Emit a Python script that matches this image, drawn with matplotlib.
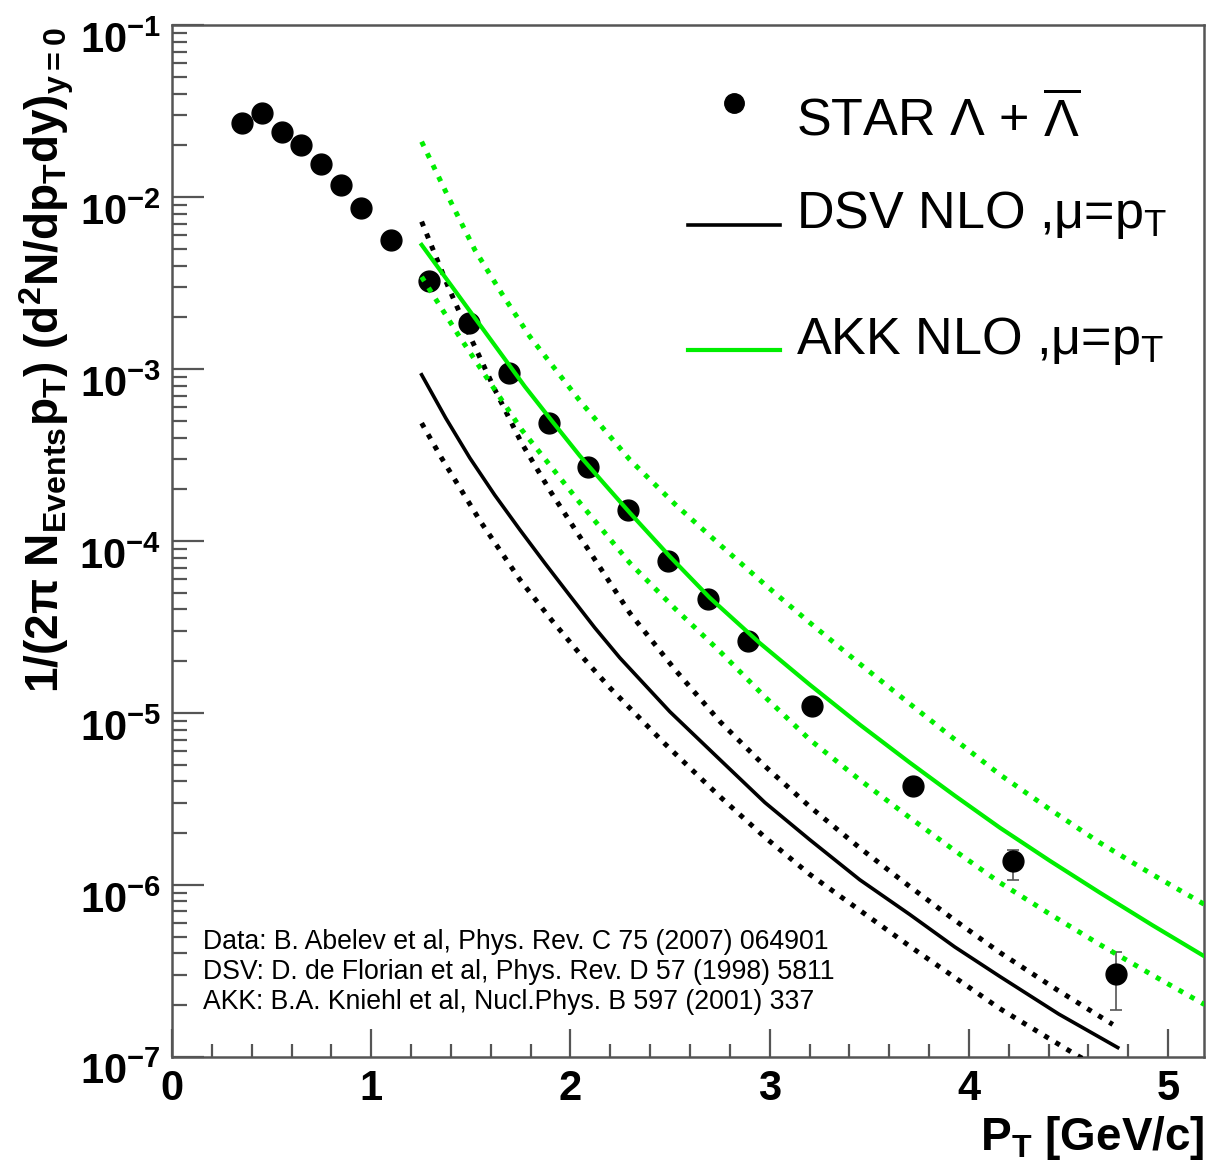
import numpy as np
import matplotlib
matplotlib.use('Agg')
import matplotlib.pyplot as plt
import matplotlib.transforms as mtrans
from matplotlib.ticker import FixedLocator, MultipleLocator, LogLocator, NullFormatter
from matplotlib.lines import Line2D
from matplotlib.legend_handler import HandlerLine2D

plt.rcParams['font.family'] = ['Liberation Sans', 'DejaVu Sans']
plt.rcParams['mathtext.fontset'] = 'custom'
plt.rcParams['mathtext.rm'] = 'Liberation Sans'
plt.rcParams['mathtext.it'] = 'Liberation Sans:italic'
plt.rcParams['mathtext.bf'] = 'Liberation Sans:bold'
plt.rcParams['mathtext.sf'] = 'Liberation Sans'

# ---------------- data ----------------
star_pt = [0.35, 0.45, 0.55, 0.65, 0.75, 0.85, 0.95, 1.10, 1.29, 1.49, 1.69,
           1.89, 2.09, 2.29, 2.49, 2.69, 2.89, 3.21, 3.72, 4.22, 4.74]
star_y = [2.69e-2, 3.08e-2, 2.41e-2, 2.01e-2, 1.56e-2, 1.18e-2, 8.63e-3, 5.65e-3,
          3.27e-3, 1.85e-3, 9.48e-4, 4.85e-4, 2.69e-4, 1.52e-4, 7.61e-5, 4.60e-5,
          2.61e-5, 1.09e-5, 3.74e-6, 1.37e-6, 3.01e-7]
star_err_lo = [0, 0, 0, 0, 0, 0, 0, 0, 0, 0, 0, 0, 0, 0, 0, 0, 0, 0, 0, 0.30e-6, 1.15e-7]
star_err_hi = [0, 0, 0, 0, 0, 0, 0, 0, 0, 0, 0, 0, 0, 0, 0, 0, 0, 0, 0, 0.23e-6, 1.03e-7]

dsv_pt = [1.253, 1.374, 1.495, 1.620, 1.746, 1.872, 1.997, 2.122, 2.248, 2.499, 2.750,
          2.976, 3.201, 3.452, 3.703, 3.929, 4.155, 4.451, 4.747]
dsv_y = [9.27e-4, 5.19e-4, 3.04e-4, 1.85e-4, 1.163e-4, 7.42e-5, 4.81e-5, 3.13e-5,
         2.09e-5, 1.016e-5, 5.35e-6, 3.01e-6, 1.83e-6, 1.07e-6, 6.72e-7, 4.35e-7,
         2.93e-7, 1.77e-7, 1.13e-7]

dsv_hi_pt = [1.253, 1.386, 1.504, 1.621, 1.755, 1.901, 2.047, 2.298, 2.524, 2.750,
             2.976, 3.201, 3.452, 3.703, 3.929, 4.155, 4.440, 4.722]
dsv_hi_y = [7.21e-3, 3.02e-3, 1.48e-3, 7.58e-4, 3.71e-4, 1.93e-4, 1.06e-4, 3.81e-5,
            1.79e-5, 8.91e-6, 4.90e-6, 2.85e-6, 1.64e-6, 9.77e-7, 6.22e-7, 4.04e-7,
            2.46e-7, 1.54e-7]

dsv_lo_pt = [1.253, 1.353, 1.550, 1.746, 1.905, 2.064, 2.198, 2.474, 2.750, 2.976,
             3.201, 3.718, 4.155, 4.541, 4.75]
dsv_lo_y = [4.85e-4, 3.04e-4, 1.29e-4, 5.96e-5, 3.47e-5, 2.09e-5, 1.40e-5, 6.61e-6,
            3.26e-6, 1.89e-6, 1.15e-6, 4.27e-7, 1.905e-7, 1.02e-7, 7.5e-8]

akk_pt = [1.253, 1.504, 1.771, 1.909, 2.047, 2.173, 2.298, 2.499, 2.699, 2.950, 3.201,
          3.452, 3.703, 3.929, 4.155, 4.406, 4.656, 4.920, 5.183]
akk_y = [5.28e-3, 2.105e-3, 7.92e-4, 4.96e-4, 3.13e-4, 2.13e-4, 1.46e-4, 8.12e-5,
         4.68e-5, 2.55e-5, 1.46e-5, 8.55e-6, 5.14e-6, 3.30e-6, 2.15e-6, 1.38e-6,
         9.02e-7, 5.83e-7, 3.83e-7]

akk_hi_pt = [1.253, 1.386, 1.520, 1.654, 1.796, 2.047, 2.298, 2.524, 2.750, 2.976,
             3.201, 3.452, 3.703, 3.929, 4.155, 4.406, 4.656, 4.920, 5.183]
akk_hi_y = [2.104e-2, 1.008e-2, 4.94e-3, 2.766e-3, 1.547e-3, 6.54e-4, 2.97e-4, 1.64e-4,
            9.52e-5, 5.58e-5, 3.35e-5, 1.93e-5, 1.13e-5, 7.01e-6, 4.38e-6, 2.75e-6,
            1.76e-6, 1.15e-6, 7.68e-7]

akk_lo_pt = [1.253, 1.437, 1.570, 1.755, 2.047, 2.298, 2.524, 2.750, 2.976, 3.201,
             3.452, 3.703, 3.929, 4.155, 4.406, 4.656, 4.920, 5.183]
akk_lo_y = [3.44e-3, 1.583e-3, 9.27e-4, 4.44e-4, 1.67e-4, 7.45e-5, 4.05e-5, 2.28e-5,
            1.24e-5, 6.99e-6, 4.08e-6, 2.46e-6, 1.58e-6, 1.03e-6, 6.76e-7, 4.50e-7,
            2.99e-7, 2.01e-7]

y_tick_vals = [1e-7, 1e-6, 1e-5, 1e-4, 1e-3, 1e-2, 1e-1]
y_tick_labels = [r'$\mathbf{10^{-7}}$', r'$\mathbf{10^{-6}}$', r'$\mathbf{10^{-5}}$',
                 r'$\mathbf{10^{-4}}$', r'$\mathbf{10^{-3}}$', r'$\mathbf{10^{-2}}$',
                 r'$\mathbf{10^{-1}}$']
x_tick_vals = [0, 1, 2, 3, 4, 5]
x_tick_labels = ['0', '1', '2', '3', '4', '5']

legend_labels = [r'STAR $\mathrm{\Lambda}$ + $\overline{\mathrm{\Lambda}}$',
                 r'DSV NLO ,μ=p$_\mathrm{T}$',
                 r'AKK NLO ,μ=p$_\mathrm{T}$']
refs = ['Data: B. Abelev et al, Phys. Rev. C 75 (2007) 064901',
        'DSV: D. de Florian et al, Phys. Rev. D 57 (1998) 5811',
        'AKK: B.A. Kniehl et al, Nucl.Phys. B 597 (2001) 337']


class ShiftedHandler(HandlerLine2D):
    """Legend key drawn slightly above/below the text centre (points)."""
    def __init__(self, dy, **kw):
        super().__init__(**kw)
        self.dy = dy

    def create_artists(self, legend, orig_handle, xdescent, ydescent, width, height,
                       fontsize, trans):
        arts = super().create_artists(legend, orig_handle, xdescent, ydescent, width,
                                      height, fontsize, trans)
        for a in arts:
            a.set_ydata(np.asarray(a.get_ydata(), dtype=float) + self.dy)
        return arts


# ---------------- figure ----------------
W, H = 1212, 1167
fig = plt.figure(figsize=(W / 100, H / 100), dpi=100)
L, R, T, B = 172, 1204, 25.3, 1056.7
ax = fig.add_axes([L / W, 1 - B / H, (R - L) / W, (B - T) / H])

green = '#00ee00'
dot = (0, (1, 1.6))

ax.errorbar(star_pt, star_y, yerr=[star_err_lo, star_err_hi], fmt='o', color='black',
            markersize=15, ecolor='#555555', elinewidth=1.2, capsize=4, capthick=1.2,
            zorder=2)

ax.plot(dsv_pt, dsv_y, color='black', lw=2.6, zorder=3)
ax.plot(dsv_hi_pt, dsv_hi_y, color='black', lw=3.6, ls=dot, zorder=3)
ax.plot(dsv_lo_pt, dsv_lo_y, color='black', lw=3.6, ls=dot, zorder=3)
ax.plot(akk_pt, akk_y, color=green, lw=3.0, zorder=4)
ax.plot(akk_hi_pt, akk_hi_y, color=green, lw=3.6, ls=dot, zorder=4)
ax.plot(akk_lo_pt, akk_lo_y, color=green, lw=3.6, ls=dot, zorder=4)

ax.set_yscale('log')
ax.set_xlim(0, 5.18)
ax.set_ylim(1e-7, 1e-1)

ax.yaxis.set_major_locator(FixedLocator(y_tick_vals))
ax.set_yticklabels(y_tick_labels)
ax.yaxis.set_minor_locator(LogLocator(base=10, subs=[2, 3, 4, 5, 6, 7, 8, 9], numticks=20))
ax.yaxis.set_minor_formatter(NullFormatter())
ax.xaxis.set_major_locator(FixedLocator(x_tick_vals))
ax.set_xticklabels(x_tick_labels, fontweight='bold')
ax.xaxis.set_minor_locator(MultipleLocator(0.2))

tc = '#555555'
ax.tick_params(axis='both', which='both', direction='in', colors=tc, top=False, right=False)
ax.tick_params(axis='y', which='major', length=23, width=1.6, labelsize=30, pad=8,
               labelcolor='black')
ax.tick_params(axis='y', which='minor', length=11, width=1.6)
ax.tick_params(axis='x', which='major', length=20, width=1.6, labelsize=30, pad=9,
               labelcolor='black')
ax.tick_params(axis='x', which='minor', length=9.5, width=1.6)
for s in ax.spines.values():
    s.set_color(tc)
    s.set_linewidth(1.8)

# axis titles
fig.text(1205 / W, 1 - 1150 / H, r'$\mathbf{P_{T}\ [GeV/c]}$', fontsize=33,
         ha='right', va='baseline')
fig.text(60 / W, 1 - 27 / H,
         r'$\mathbf{1/(2\pi\ N_{Events}p_{T})\ (d^{2}N/dp_{T}dy)_{y=0}}$',
         fontsize=33, rotation=90, rotation_mode='anchor', ha='right', va='baseline')

# legend (two blocks to reproduce the uneven row spacing)
h_star = Line2D([], [], marker='o', ls='none', color='black', markersize=14)
h_dsv = Line2D([], [], color='black', lw=2.6)
h_akk = Line2D([], [], color=green, lw=3.0)
leg1 = ax.legend([h_star], legend_labels[:1], loc='upper left',
                 bbox_to_anchor=(0.5, 0.9334), frameon=False, fontsize=37.5,
                 handlelength=1.77, handletextpad=0.30, borderpad=0, borderaxespad=0,
                 handler_map={h_star: ShiftedHandler(10.8)})
ax.add_artist(leg1)
ax.legend([h_dsv, h_akk], legend_labels[1:], loc='upper left',
          bbox_to_anchor=(0.5, 0.8412), frameon=False, fontsize=37.5,
          handlelength=1.77, handletextpad=0.30, labelspacing=1.42,
          borderpad=0, borderaxespad=0,
          handler_map={h_dsv: ShiftedHandler(-11.0), h_akk: ShiftedHandler(-10.5)})

# reference notes
for i, t in enumerate(refs):
    ax.text(0.030, 0.1112 - i * 0.0291, t, transform=ax.transAxes, fontsize=19.2,
            ha='left', va='center')

# y tick labels sit a little below their ticks, as in the reference
fig.canvas.draw()
off = mtrans.ScaledTranslation(0, -0.12, fig.dpi_scale_trans)
for lab in ax.yaxis.get_majorticklabels():
    lab.set_transform(lab.get_transform() + off)

fig.savefig('out.png', dpi=100)
